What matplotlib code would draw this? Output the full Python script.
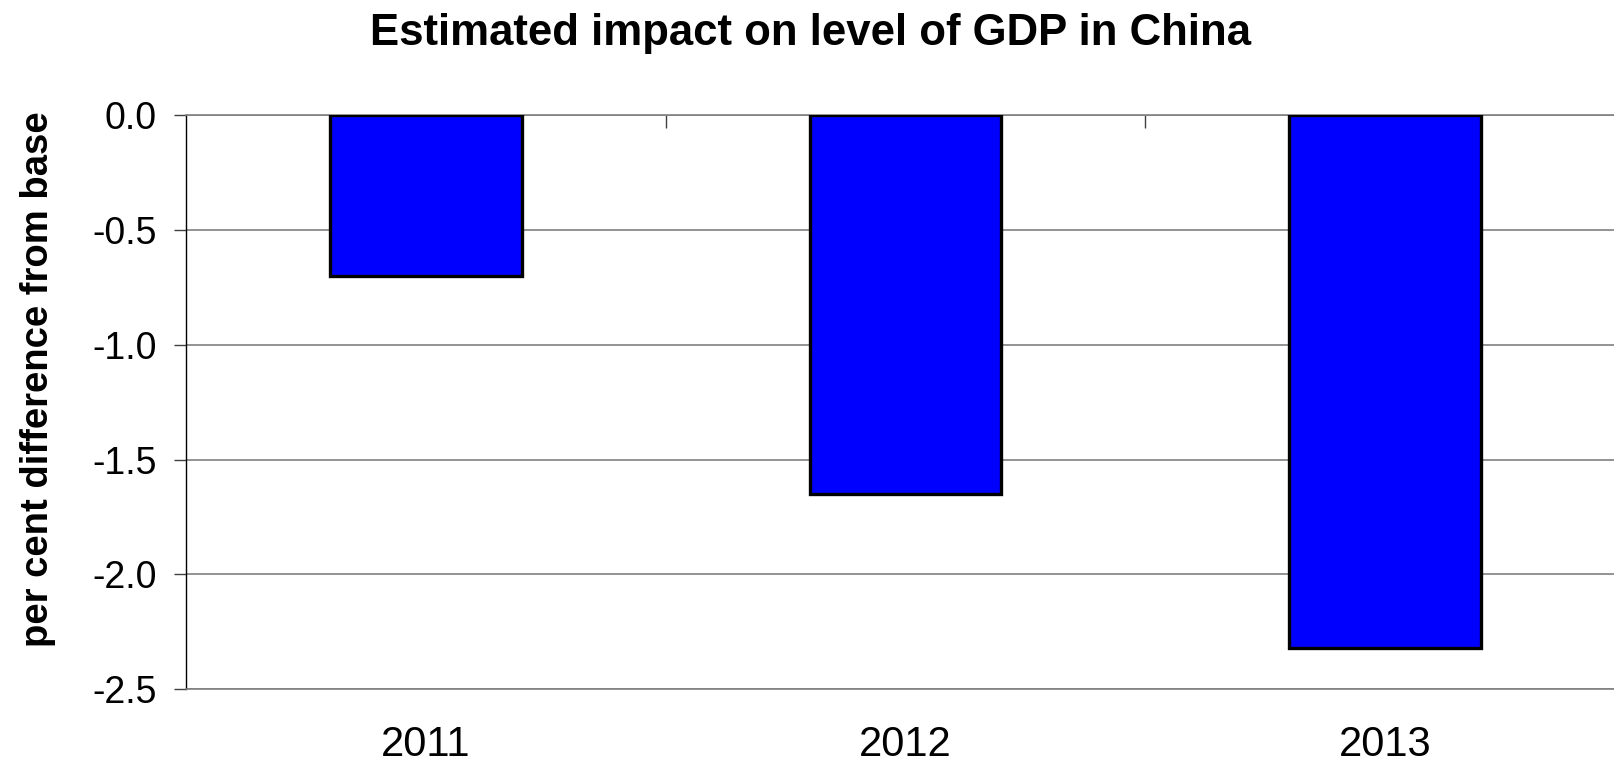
import matplotlib.pyplot as plt

plt.rcParams['font.family'] = ['Liberation Sans', 'DejaVu Sans']

# ======================
# Data
# ======================
years = ["2011", "2012", "2013"]
impact = [-0.70, -1.65, -2.32]

# ======================
# Plot
# ======================
fig = plt.figure(figsize=(16.14, 7.64), dpi=100)
ax = fig.add_axes([0.1152, 0.0978, 0.8848, 0.7517])

x = list(range(len(years)))
ax.bar(x, impact, width=0.4, color='#0000ff', edgecolor='black',
       linewidth=2.4, zorder=3)

ax.set_xlim(-0.5, 2.477)
ax.set_ylim(-2.5, 0.0)
yticks = [0.0, -0.5, -1.0, -1.5, -2.0, -2.5]
ax.set_yticks(yticks)
ax.set_yticklabels([f"{v:.1f}" for v in yticks])

ax.set_xticks(x)
ax.set_xticklabels(years)
ax.set_xticks([0.5, 1.5], minor=True)

ax.grid(axis='y', color='#808080', linewidth=1.2, zorder=0)
ax.set_axisbelow(True)

ax.spines['right'].set_visible(False)
for side in ['top', 'bottom']:
    ax.spines[side].set_color('#808080')
    ax.spines[side].set_linewidth(1.2)
ax.spines['left'].set_color('black')
ax.spines['left'].set_linewidth(1.0)

ax.tick_params(axis='y', direction='out', length=9, width=1.0,
               labelsize=27, pad=12, color='#404040')
ax.tick_params(axis='x', which='major', length=0, labelsize=30, pad=26)
ax.tick_params(axis='x', which='minor', top=True, bottom=False,
               direction='in', length=9, width=1.0, color='#404040')

fig.text(0.0235, 0.504, "per cent difference from base", fontsize=27.5,
         fontweight='bold', rotation=90, ha='center', va='center')
fig.suptitle("Estimated impact on level of GDP in China", x=0.502, y=0.983,
             fontsize=31.5, fontweight='bold', va='top')

fig.savefig("out.png", dpi=100)
